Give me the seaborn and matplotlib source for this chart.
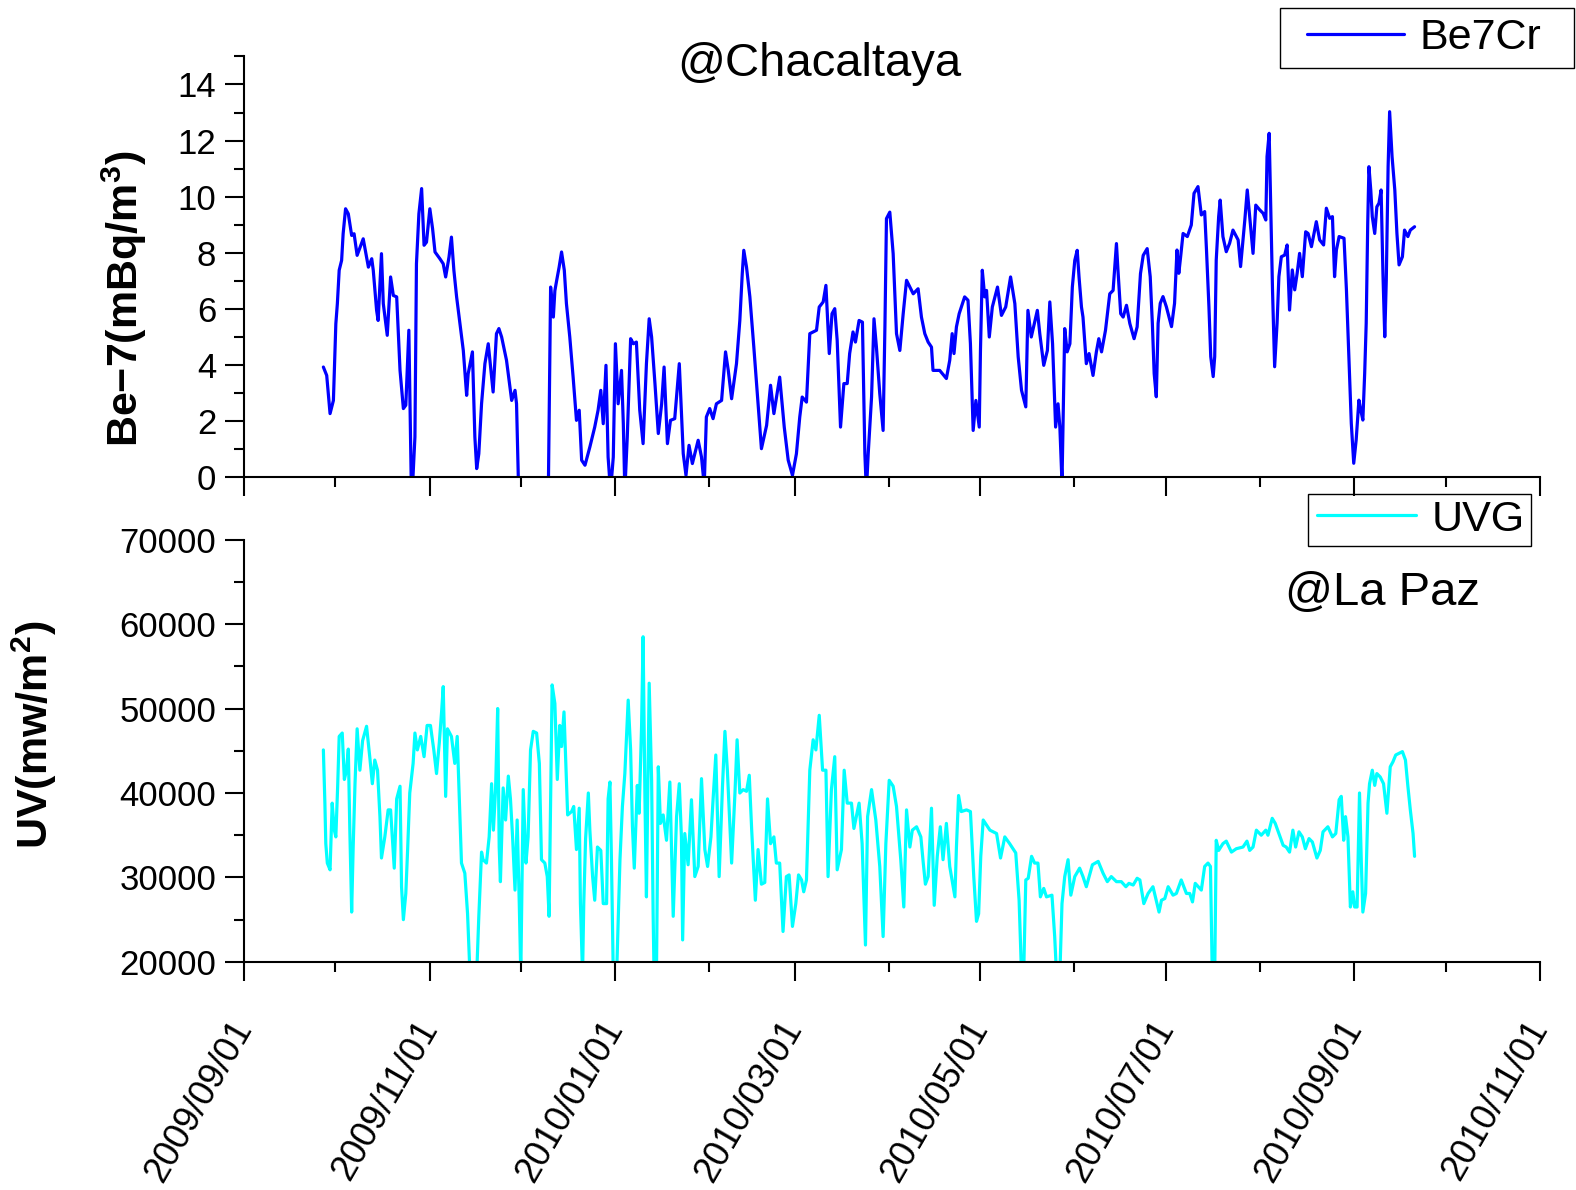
import numpy as np
import pandas as pd
import matplotlib
matplotlib.use("Agg")
import matplotlib.pyplot as plt
import matplotlib.dates as mdates
from matplotlib.ticker import MultipleLocator
from matplotlib.lines import Line2D
from matplotlib.patches import Rectangle
import seaborn as sns

# ---------------- data (days since 2009-09-01) ----------------
be7_day = [26.1, 27.2, 28.3, 29.4, 29.9, 30.2, 30.7, 31.3, 32.1, 32.6,
           33.4, 34.3, 35.4, 36.2, 37.2, 39.2, 40.9, 42.0, 42.5, 43.6,
           44.1, 45.2, 45.8, 47.1, 48.2, 49.1, 50.2, 51.3, 52.4, 53.2,
           54.2, 55.1, 56.2, 56.7, 57.5, 58.4, 59.2, 60.0, 61.1, 62.0,
           62.8, 64.4, 65.5, 66.3, 67.4, 68.2, 69.0, 69.9, 71.0, 72.1,
           73.2, 73.7, 75.1, 75.9, 76.5, 77.2, 78.1, 79.2, 80.3, 81.9,
           83.0, 83.8, 84.7, 86.3, 88.0, 89.1, 89.6, 90.4, 93.0, 96.0,
           99.0, 100.0, 100.8, 101.7, 102.2, 102.8, 103.6, 104.4, 105.3, 106.0,
           107.1, 108.2, 109.3, 110.2, 111.0, 112.1, 113.7, 115.3, 116.4, 117.3,
           118.1, 119.0, 119.7, 120.5, 121.4, 122.1,
           123.0, 124.1, 124.7, 125.2, 126.0, 127.1, 128.0, 129.0, 130.1, 131.2,
           132.3, 133.2, 134.0, 135.1, 136.2, 137.3, 138.1, 139.2, 140.2, 141.6,
           143.1, 144.4, 145.3, 146.3, 147.4, 149.3, 150.4, 151.3, 152.0, 153.1,
           154.2, 155.3, 157.0, 158.3, 159.2, 160.3, 161.9, 163.0, 163.8, 164.3,
           165.2, 166.3, 167.6, 169.0, 170.1, 171.8, 173.1, 174.2, 176.1, 177.6,
           178.9, 180.3, 181.6, 182.7, 183.5, 184.9, 186.0, 188.2, 189.1, 190.4,
           191.3, 192.4, 193.3, 194.2, 195.0, 196.1, 197.2, 198.3, 199.1, 200.2,
           201.0, 202.2, 203.3, 204.1, 204.6, 205.2, 206.3, 207.1, 207.9, 209.0,
           210.1, 210.7, 211.2, 212.3, 213.4, 214.5, 215.6,
           216.7, 217.8, 220.0, 221.6, 222.7, 223.8, 224.9, 226.0, 226.5, 228.7,
           230.9, 232.0, 232.8, 233.4, 234.2, 235.1, 236.9, 238.0, 238.8, 239.7,
           240.6, 241.7, 242.1, 242.7, 243.5, 244.1, 245.0, 246.0, 247.7, 249.0,
           250.4, 252.0, 253.4, 254.5, 255.6, 257.0, 257.7, 258.8, 260.8, 261.6,
           262.9, 264.1, 264.9, 265.8, 266.8, 267.6, 268.2, 268.9, 269.8, 270.6,
           271.5, 272.3, 273.1, 273.9, 274.5, 275.3, 275.8, 276.9, 277.8, 279.1,
           280.2, 281.0, 281.9, 283.2, 284.6, 285.7, 286.8, 287.3, 288.2, 289.0,
           290.1, 291.2, 292.6, 293.6, 294.7, 295.6, 296.9,
           297.9, 298.6, 299.2, 299.9, 300.5, 301.2, 302.1, 303.2, 304.9, 305.9,
           306.7, 307.3, 307.9, 308.7, 310.1, 311.4, 312.3, 313.6, 314.7, 315.8,
           316.4, 317.2, 317.8, 318.6, 319.1, 319.6, 320.4, 320.9, 321.8, 322.9,
           324.0, 325.1, 326.8, 327.6, 329.0, 329.8, 330.6, 331.7, 332.6, 333.9,
           335.0, 335.9, 336.3, 337.0, 337.5, 338.1, 338.8, 339.6, 340.2, 341.0,
           342.1, 342.9, 343.7, 344.6, 345.4, 346.2, 347.0, 347.9, 349.0, 349.8,
           350.9, 352.5, 353.6, 354.9, 355.8, 356.9, 357.8, 358.5, 359.1, 360.0,
           361.6, 362.4, 363.2, 364.0, 364.8, 365.6, 366.5, 367.1, 367.8, 368.4,
           368.9, 369.4, 369.8, 370.4, 370.9, 371.7, 372.4, 373.1, 373.8, 374.4,
           375.0, 375.5, 376.1, 376.6, 377.4, 378.3, 379.0, 379.7, 380.8, 381.5,
           382.6, 383.4, 384.8]
be7_val = [3.93, 3.63, 2.27, 2.74, 4.41, 5.47, 6.19, 7.38, 7.73, 8.68,
           9.57, 9.39, 8.62, 8.68, 7.91, 8.50, 7.49, 7.79, 7.38, 5.95,
           5.59, 7.97, 6.19, 5.06, 7.14, 6.48, 6.43, 3.81, 2.45, 2.57,
           5.24, -1.0, 1.44, 7.61, 9.39, 10.29, 8.27, 8.38, 9.57, 8.86,
           8.03, 7.79, 7.61, 7.14, 7.85, 8.56, 7.38, 6.43, 5.47, 4.52,
           2.92, 3.69, 4.47, 1.44, 0.31, 0.84, 2.62, 4.05, 4.76, 3.04,
           5.12, 5.30, 5.00, 4.17, 2.74, 3.10, 2.62, -1.0, -2.0, -2.0,
           -2.0, -1.0, 6.78, 5.71, 6.65, 7.02, 7.49, 8.03, 7.38, 6.19,
           5.00, 3.57, 2.03, 2.39, 0.61, 0.43, 1.08, 1.79, 2.39, 3.10,
           1.91, 3.99, 0.72, -0.5, 0.72, 4.76,
           2.62, 3.81, 1.91, -0.5, 1.44, 4.94, 4.76, 4.82, 2.39, 1.20,
           4.05, 5.65, 5.00, 3.34, 1.56, 2.62, 3.93, 1.20, 2.03, 2.09,
           4.05, 0.84, 0.07, 1.14, 0.49, 1.32, 0.72, -0.3, 2.15, 2.45,
           2.09, 2.62, 2.74, 4.47, 3.81, 2.80, 4.05, 5.59, 7.26, 8.09,
           7.49, 6.43, 4.64, 2.62, 1.02, 1.85, 3.28, 2.27, 3.57, 1.79,
           0.61, 0.07, 0.84, 2.15, 2.86, 2.68, 5.12, 5.24, 6.07, 6.25,
           6.84, 4.41, 5.83, 6.01, 4.88, 1.79, 3.34, 3.34, 4.41, 5.18,
           4.82, 5.59, 5.53, 0.84, -0.5, 0.84, 2.86, 5.65, 4.64, 2.98,
           1.67, 5.42, 9.22, 9.45, 7.97, 5.12, 4.52,
           5.83, 7.02, 6.54, 6.72, 5.71, 5.12, 4.82, 4.64, 3.81, 3.81,
           3.52, 4.17, 5.12, 4.41, 5.36, 5.83, 6.43, 6.31, 4.76, 1.67,
           2.74, 1.79, 4.52, 7.38, 6.43, 6.66, 5.00, 6.07, 6.78, 5.77,
           6.07, 7.14, 6.19, 4.29, 3.10, 2.51, 5.95, 5.00, 5.95, 5.12,
           3.99, 4.52, 6.25, 4.76, 1.79, 2.62, 1.79, -0.2, 5.30, 4.47,
           4.76, 6.78, 7.73, 8.09, 7.14, 6.07, 5.71, 4.05, 4.41, 3.63,
           4.47, 4.94, 4.47, 5.24, 6.54, 6.66, 8.33, 7.38, 5.83, 5.71,
           6.13, 5.48, 4.94, 5.36, 7.26, 7.91, 8.15,
           7.15, 5.49, 3.70, 2.87, 5.49, 6.20, 6.44, 6.08, 5.37, 6.20,
           8.10, 7.27, 7.86, 8.69, 8.58, 8.99, 10.12, 10.36, 9.35, 9.47,
           8.10, 6.08, 4.30, 3.59, 4.30, 7.74, 9.29, 9.88, 8.58, 8.04,
           8.34, 8.81, 8.46, 7.51, 9.17, 10.24, 9.29, 7.98, 9.70, 9.53,
           9.41, 9.17, 11.43, 12.26, 9.65, 6.68, 3.94, 5.49, 7.15, 7.86,
           7.92, 8.28, 5.96, 7.39, 6.68, 7.27, 7.98, 7.15, 8.75, 8.69,
           8.22, 9.11, 8.46, 8.28, 9.59, 9.23, 9.29, 7.15, 8.10, 8.58,
           8.52, 6.68, 4.30, 1.92, 0.50, 1.33, 2.75, 2.40, 2.04, 3.71,
           5.49, 9.05, 11.07, 10.24, 9.29, 8.69, 9.64, 9.77, 10.24, 7.27,
           5.01, 7.03, 11.07, 13.03, 11.43, 10.24, 8.69, 7.57, 7.86, 8.81,
           8.58, 8.81, 8.93]

uv_day = [26.1, 26.6, 26.9, 27.4, 28.3, 29.0, 29.7, 30.2, 30.8, 31.3,
          32.3, 33.0, 33.7, 34.3, 34.8, 35.4, 35.9, 36.5, 37.2, 38.1,
          39.0, 40.3, 41.4, 42.2, 43.0, 43.9, 44.7, 45.2, 46.3, 47.4,
          48.2, 48.9, 49.4, 50.2, 51.3, 51.8, 52.4, 53.2, 53.8, 54.5,
          55.6, 56.2, 57.0, 58.1, 59.2, 60.2, 61.3, 62.4, 63.3, 64.2,
          65.0, 65.5, 66.3, 66.9, 68.2, 69.3, 70.1, 70.8, 71.5, 72.6,
          73.5, 74.3, 75.4, 76.5, 77.2, 78.1, 78.6, 79.7, 80.6, 81.4,
          82.0, 82.7, 83.4, 83.9, 84.3, 85.2, 86.0, 86.9, 87.6, 88.3,
          89.1, 89.8, 90.5, 91.0, 91.8, 92.7, 93.4, 94.2, 95.1, 96.2,
          97.1, 97.8, 98.9, 99.7, 100.3, 100.8, 101.3, 102.2, 103.0, 103.8,
          104.4, 105.2, 105.8, 106.4, 107.7, 108.4, 109.3, 110.2, 110.6, 111.3,
          111.7, 112.3, 113.2, 113.7, 114.6, 115.3, 116.2, 117.3, 118.1, 119.2,
          119.7, 120.3, 120.8, 121.4, 122.5,
          123.6, 124.4, 125.2, 126.3, 127.1, 127.7, 128.3, 129.3, 129.9, 130.7,
          131.2, 131.8, 132.3, 133.2, 134.0, 134.5, 134.8, 135.6, 136.2, 136.9,
          137.8, 138.9, 140.0, 141.1, 142.2, 143.1, 143.8, 144.2, 144.9, 146.0,
          147.1, 148.2, 149.3, 150.4, 151.5, 152.4, 153.5, 154.2, 155.1, 156.2,
          157.3, 158.1, 158.9, 160.3, 161.4, 162.1, 163.0, 164.1, 165.2, 166.1,
          166.9, 167.6, 168.1, 169.0, 170.1, 171.2, 172.1, 173.1, 174.2, 175.0,
          176.1, 177.2, 178.3, 179.2, 180.3, 181.4, 182.3, 183.3, 184.0, 184.9,
          186.0, 187.1, 188.0, 189.1, 190.2, 191.3, 192.0, 193.1, 194.2, 195.0,
          196.4, 197.3, 198.3, 199.7, 200.5, 201.3, 202.2, 203.2, 204.3, 205.0,
          206.3, 207.7, 209.0, 210.1, 211.0, 212.1, 213.4, 214.5, 215.9, 216.9,
          217.8, 218.9, 219.7, 221.1,
          222.5, 223.3, 224.0, 224.9, 226.0, 226.9, 227.9, 228.9, 229.8, 230.9,
          232.0, 233.7, 234.2, 234.9, 235.8, 237.5, 238.8, 239.9, 240.8, 241.5,
          242.2, 243.0, 245.2, 247.4, 248.7, 250.1, 251.7, 253.7, 254.8, 255.6,
          256.3, 257.0, 257.8, 258.9, 259.9, 261.0, 261.8, 262.9, 263.8, 265.6,
          266.5, 267.1, 268.2, 268.9, 269.8, 270.9, 271.8, 273.1, 274.7, 275.8,
          276.9, 278.9, 280.8, 282.4, 283.8, 285.1, 286.8, 288.4, 289.9, 290.9,
          292.3, 293.6,
          294.5, 295.8, 297.2, 298.8, 300.8, 301.6, 302.7, 303.8, 305.4, 306.5,
          308.1, 309.8, 310.9, 311.8, 312.7, 314.7, 315.8, 316.9, 317.7, 318.3,
          319.1, 319.6, 320.4, 321.8, 322.9, 324.6, 326.2, 328.4, 329.7, 330.6,
          331.7, 332.8, 334.4, 335.9, 336.6, 338.0, 339.0, 340.2, 341.6, 342.6,
          343.7, 344.8, 345.7, 346.8, 347.9, 348.9, 350.1, 351.2, 352.7, 353.8,
          354.7, 356.3, 357.8, 358.9, 360.0, 360.7, 361.5, 362.1, 362.9, 363.7,
          364.5, 365.1, 365.9, 366.7, 367.3, 367.8, 368.7, 369.5, 370.0, 370.9,
          371.7, 372.4, 373.5, 374.6, 375.7, 376.8, 377.7, 378.6, 379.7, 380.8,
          381.8, 382.6, 383.4, 384.3, 384.8]
uv_val = [45100, 38800, 34000, 31700, 30900, 38800, 35600, 34800, 40800, 46700,
          47100, 41600, 42700, 45200, 35600, 25900, 33600, 41100, 47600, 42700,
          46200, 47900, 44100, 41100, 43900, 42700, 37200, 32300, 34800, 38000,
          38000, 34000, 31100, 39300, 40800, 28900, 25000, 28100, 33300, 40000,
          43500, 47100, 45100, 46700, 44300, 48000, 48000, 45100, 42300, 45900,
          49800, 52600, 39600, 47600, 46700, 43500, 46700, 39300, 31700, 30500,
          25700, 18500, 18500, 18500, 25400, 33000, 32100, 31700, 34800, 41100,
          35600, 40400, 50000, 33600, 29500, 40600, 36800, 42000, 39300, 34800,
          28500, 36800, 26900, 18500, 40400, 31700, 34800, 45100, 47300, 47100,
          43500, 32100, 31700, 30100, 25400, 38800, 52800, 50600, 41600, 48000,
          45500, 49600, 43500, 37400, 37800, 38400, 33300, 38200, 26900, 18500,
          26900, 34600, 40000, 35600, 30100, 27300, 33600, 33200, 26900, 26900,
          39300, 41300, 32100, 18500, 18500,
          32100, 38400, 42300, 51000, 45100, 36000, 31100, 40900, 37600, 47900,
          58500, 39500, 27700, 53000, 41500, 25700, 18500, 18500, 43100, 36400,
          37400, 34400, 41300, 25400, 37200, 41100, 34800, 22600, 35200, 31500,
          39200, 30100, 31300, 41700, 33300, 31300, 34800, 39200, 44500, 30100,
          40800, 47300, 42700, 31700, 40000, 46300, 40000, 40400, 40200, 42100,
          35600, 30900, 27300, 33300, 29200, 29400, 39300, 34000, 34800, 31700,
          31700, 23600, 30100, 30300, 24200, 26900, 30300, 29700, 28300, 29700,
          42700, 46300, 45100, 49200, 42700, 42700, 30100, 40400, 44300, 30900,
          33300, 42700, 38800, 38800, 35800, 37200, 38800, 34000, 22000, 37200,
          40400, 36800, 31300, 23000, 34000, 41500, 40800, 38400, 32100, 26500,
          38000, 33600, 35600, 36000,
          34800, 31700, 29200, 30100, 38200, 26700, 32500, 36000, 32100, 36400,
          31300, 27700, 33600, 39700, 37800, 38000, 37800, 30100, 24800, 25700,
          32500, 36800, 35600, 35200, 32300, 34800, 34000, 32900, 27300, 18500,
          18500, 29700, 29900, 32500, 31700, 31700, 27700, 28700, 27700, 27900,
          23000, 18500, 18500, 26900, 30100, 32100, 27900, 30100, 31100, 30100,
          28900, 31500, 31900, 30500, 29500, 30100, 29500, 29500, 28900, 29300,
          29100, 29900,
          29700, 26900, 28100, 28900, 25900, 27300, 27500, 28900, 27900, 28100,
          29700, 28100, 28100, 27100, 29300, 28500, 31300, 31700, 31300, 18500,
          18500, 34400, 33200, 34000, 34300, 33000, 33400, 33600, 34300, 33200,
          33600, 35600, 35000, 35600, 35000, 37000, 36400, 35200, 33800, 33600,
          33000, 35600, 33600, 35400, 34800, 33400, 34600, 34200, 32300, 33200,
          35400, 36000, 34800, 35200, 39200, 39600, 34400, 37200, 34800, 26500,
          28300, 26500, 26500, 40000, 31700, 25900, 28100, 38800, 41100, 42700,
          40900, 42300, 41900, 41100, 37600, 43100, 43700, 44500, 44700, 44900,
          43900, 40800, 38000, 35200, 32500]

start = pd.Timestamp("2009-09-01")
be7 = pd.DataFrame({"date": start + pd.to_timedelta(be7_day, unit="D"), "Be7Cr": be7_val})
uv = pd.DataFrame({"date": start + pd.to_timedelta(uv_day, unit="D"), "UVG": uv_val})

# ---------------- style ----------------
sns.set_style("ticks")
plt.rcParams["font.family"] = ["Liberation Sans", "DejaVu Sans"]
plt.rcParams["mathtext.fontset"] = "custom"
plt.rcParams["mathtext.rm"] = "Liberation Sans"
plt.rcParams["mathtext.bf"] = "Liberation Sans:bold"
for k in ("text.color", "axes.labelcolor", "xtick.color", "ytick.color", "axes.edgecolor"):
    plt.rcParams[k] = "black"
plt.rcParams["axes.linewidth"] = 1.5

fig = plt.figure(figsize=(15.76, 11.9), dpi=100)
ax1 = fig.add_axes([0.1548, 0.5989, 0.8223, 0.3537])
ax2 = fig.add_axes([0.1548, 0.1917, 0.8223, 0.3548])

sns.lineplot(data=be7, x="date", y="Be7Cr", ax=ax1, color="#0000FF", lw=2.3,
             estimator=None, sort=False, legend=False)
sns.lineplot(data=uv, x="date", y="UVG", ax=ax2, color="#00FFFF", lw=2.3,
             estimator=None, sort=False, legend=False)

xmin, xmax = pd.Timestamp("2009-09-01"), pd.Timestamp("2010-11-01")
for ax in (ax1, ax2):
    ax.set_xlim(xmin, xmax)
    ax.xaxis.set_major_locator(mdates.MonthLocator(bymonth=[1, 3, 5, 7, 9, 11]))
    ax.xaxis.set_minor_locator(mdates.MonthLocator(bymonth=[2, 4, 6, 8, 10, 12]))
    ax.xaxis.set_major_formatter(mdates.DateFormatter("%Y/%m/%d"))
    ax.tick_params(axis="both", which="major", direction="out", length=14, width=1.5,
                   labelsize=25, color="black", labelcolor="black", pad=6)
    ax.tick_params(axis="both", which="minor", direction="out", length=7, width=1.5,
                   color="black")
    sns.despine(ax=ax)
    for s in ("left", "bottom"):
        ax.spines[s].set_color("black")
        ax.spines[s].set_linewidth(1.5)
    ax.set_xlabel("")

ax1.set_ylim(0, 15)
ax1.yaxis.set_major_locator(MultipleLocator(2))
ax1.yaxis.set_minor_locator(MultipleLocator(1))
ax1.tick_params(axis="x", which="both", labelbottom=False)

ax2.set_ylim(20000, 70000)
ax2.yaxis.set_major_locator(MultipleLocator(10000))
ax2.yaxis.set_minor_locator(MultipleLocator(5000))

for lab in ax2.get_xticklabels():
    lab.set_rotation(60)
    lab.set_ha("right")
    lab.set_va("center")
    lab.set_rotation_mode("anchor")
    lab.set_fontsize(26)
ax2.tick_params(axis="x", which="major", pad=30)

ax1.set_ylabel(r"Be−7(mBq/m$^{\mathbf{3}}$)", fontsize=31, fontweight="bold")
ax1.yaxis.set_label_coords(-0.073, 0.424)
ax2.set_ylabel(r"UV(mw/m$^{\mathbf{2}}$)", fontsize=31, fontweight="bold")
ax2.yaxis.set_label_coords(-0.143, 0.537)

fig.text(0.5197, 0.946, "@Chacaltaya", fontsize=34, ha="center", va="center")
fig.text(0.877, 0.5017, "@La Paz", fontsize=34, ha="center", va="center")

# legends: content placed precisely, frames drawn as figure rectangles
fs_leg = 31
h1 = Line2D([], [], color="#0000FF", lw=2.3)
fig.legend([h1], ["Be7Cr"], loc="center left", bbox_to_anchor=(0.8293, 0.9679),
           borderaxespad=0, borderpad=0, frameon=False, fontsize=fs_leg,
           handlelength=2.25, handletextpad=0.37)
fig.patches.append(Rectangle((0.8119, 0.9426), 0.1869, 0.0507, transform=fig.transFigure,
                             fill=False, edgecolor="black", lw=1.0))
h2 = Line2D([], [], color="#00FFFF", lw=2.3)
fig.legend([h2], ["UVG"], loc="center left", bbox_to_anchor=(0.8357, 0.5634),
           borderaxespad=0, borderpad=0, frameon=False, fontsize=fs_leg,
           handlelength=2.3, handletextpad=0.35)
fig.patches.append(Rectangle((0.8297, 0.5413), 0.1416, 0.0439, transform=fig.transFigure,
                             fill=False, edgecolor="black", lw=1.0))

fig.savefig("out.png", dpi=100)
